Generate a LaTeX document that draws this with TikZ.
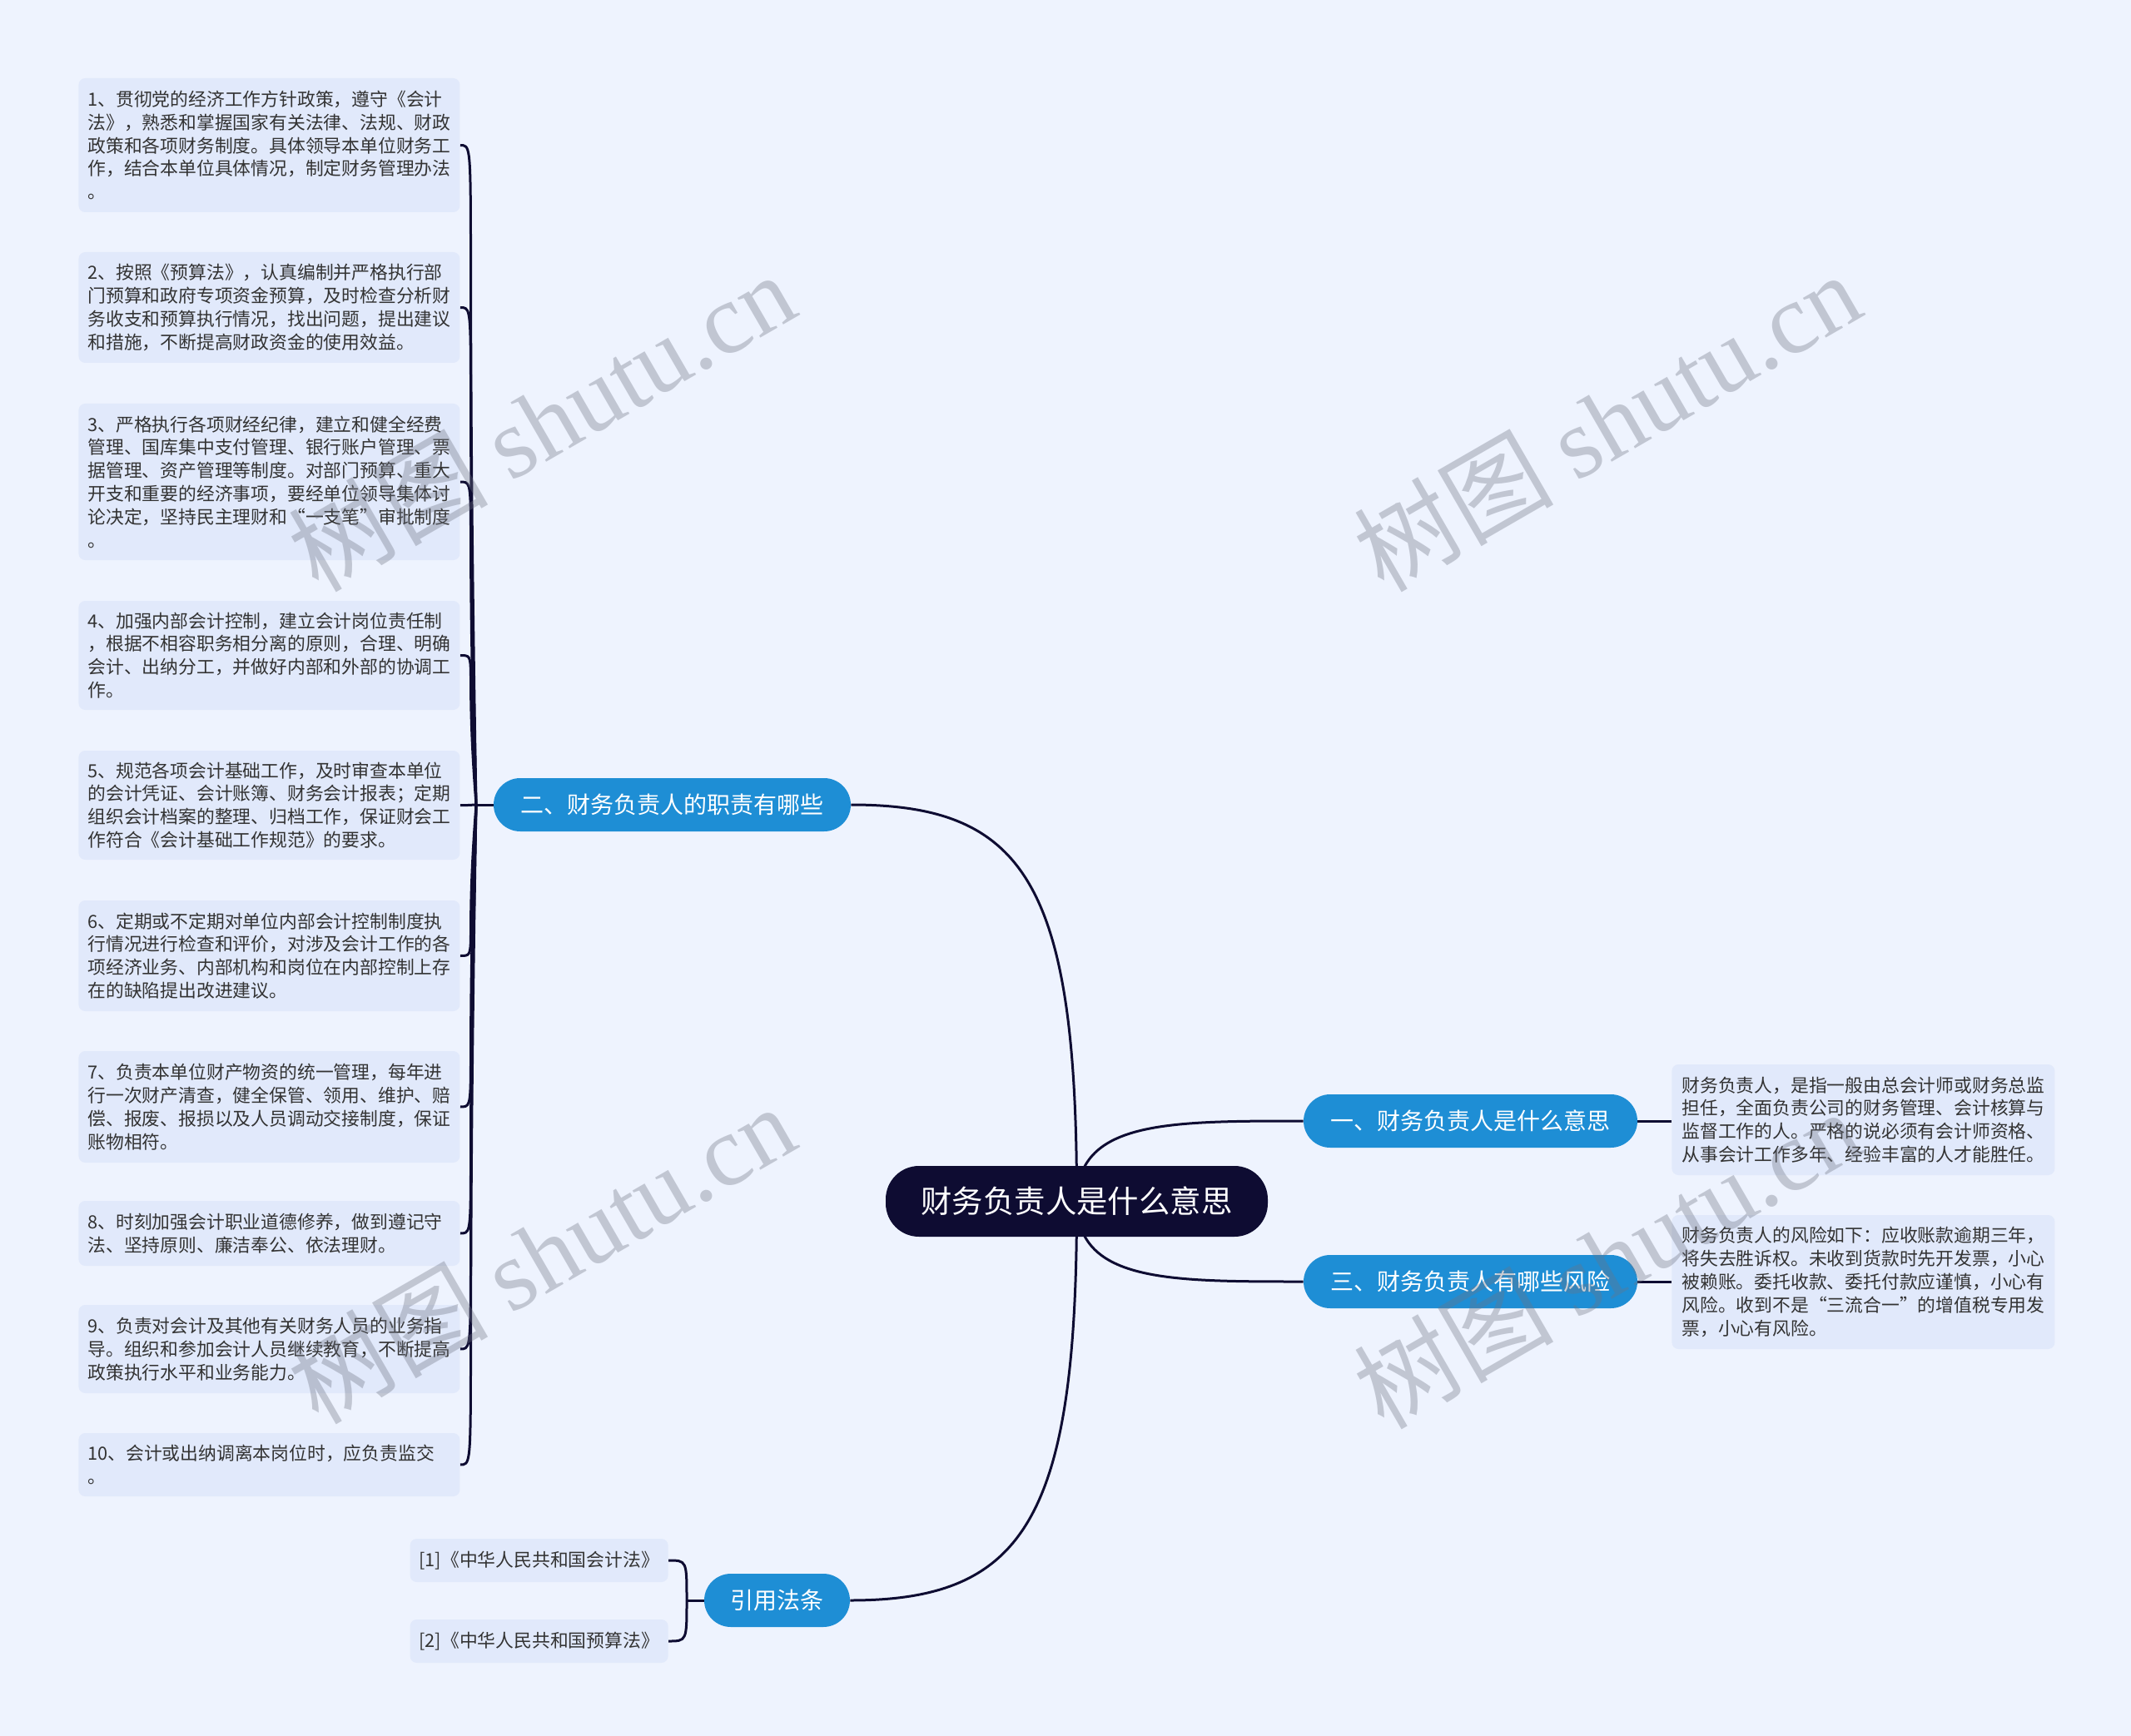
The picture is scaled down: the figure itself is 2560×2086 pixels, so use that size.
\documentclass[tikz,border=0pt]{standalone}
\usepackage{fontspec}
\setmainfont{Noto Sans CJK SC}
\newfontfamily\wmserif{Liberation Serif}
\setlength\parindent{0pt}
\pgfdeclarelayer{back}\pgfdeclarelayer{bg}\pgfdeclarelayer{fg}
\pgfsetlayers{back,bg,main,fg}
\definecolor{bgc}{RGB}{238,243,254}
\definecolor{leafc}{RGB}{225,233,251}
\definecolor{brc}{RGB}{30,142,213}
\definecolor{rootc}{RGB}{14,12,50}
\definecolor{txt}{RGB}{51,51,51}
\definecolor{wmc}{RGB}{110,115,130}
\begin{document}
\begin{tikzpicture}[x=0.5pt,y=-0.5pt,
  leaf/.style={fill=leafc, rounded corners=4pt, text=txt, font=\fontsize{10.9pt}{13.9pt}\selectfont, align=left, text width=218pt, inner xsep=5.5pt, inner ysep=0pt, anchor=west},
  cite/.style={fill=leafc, rounded corners=4pt, text=txt, font=\fontsize{10.9pt}{13.9pt}\selectfont, minimum width=155pt, minimum height=26pt, inner sep=0pt, anchor=east},
  branch/.style={fill=brc, text=white, rounded corners=16pt, minimum height=32pt, inner sep=0pt, font=\fontsize{14pt}{16pt}\selectfont},
  link/.style={draw=rootc, line width=1.5pt},
  wm/.style={text=wmc, text opacity=0.35, rotate=30, font=\fontsize{60pt}{66pt}\selectfont, inner sep=0pt}
]
\useasboundingbox (0,0) rectangle (2560,2086);
\begin{pgfonlayer}{back}
\fill[bgc] (0,0) rectangle (2560,2086);
\end{pgfonlayer}

% root
\node[fill=rootc, text=white, rounded corners=20pt, minimum width=229.5pt, minimum height=42.5pt, inner sep=0pt, font=\fontsize{18.7pt}{22pt}\selectfont] (root) at (1293.5,1443.5) {财务负责人是什么意思};

% branches
\node[branch, minimum width=214.5pt] (b2) at (807.5,967) {二、财务负责人的职责有哪些};
\node[branch, minimum width=200.5pt] (b1) at (1766.5,1347) {一、财务负责人是什么意思};
\node[branch, minimum width=200.5pt] (b3) at (1766.5,1540) {三、财务负责人有哪些风险};
\node[branch, minimum width=87.5pt] (b4) at (933.5,1923) {引用法条};

% left leaves
\node[leaf, minimum height=80.5pt] (l1) at (94,174.5) {1、贯彻党的经济工作方针政策，遵守《会计\\法》，熟悉和掌握国家有关法律、法规、财政\\政策和各项财务制度。具体领导本单位财务工\\作，结合本单位具体情况，制定财务管理办法\\。};
\node[leaf, minimum height=66.5pt] (l2) at (94,369.5) {2、按照《预算法》，认真编制并严格执行部\\门预算和政府专项资金预算，及时检查分析财\\务收支和预算执行情况，找出问题，提出建议\\和措施，不断提高财政资金的使用效益。};
\node[leaf, minimum height=94pt] (l3) at (94,579) {3、严格执行各项财经纪律，建立和健全经费\\管理、国库集中支付管理、银行账户管理、票\\据管理、资产管理等制度。对部门预算、重大\\开支和重要的经济事项，要经单位领导集体讨\\论决定，坚持民主理财和“一支笔”审批制度\\。};
\node[leaf, minimum height=65.5pt] (l4) at (94,787.5) {4、加强内部会计控制，建立会计岗位责任制\\，根据不相容职务相分离的原则，合理、明确\\会计、出纳分工，并做好内部和外部的协调工\\作。};
\node[leaf, minimum height=65.5pt] (l5) at (94,967.5) {5、规范各项会计基础工作，及时审查本单位\\的会计凭证、会计账簿、财务会计报表；定期\\组织会计档案的整理、归档工作，保证财会工\\作符合《会计基础工作规范》的要求。};
\node[leaf, minimum height=66.5pt] (l6) at (94,1148.5) {6、定期或不定期对单位内部会计控制制度执\\行情况进行检查和评价，对涉及会计工作的各\\项经济业务、内部机构和岗位在内部控制上存\\在的缺陷提出改进建议。};
\node[leaf, minimum height=67pt] (l7) at (94,1330) {7、负责本单位财产物资的统一管理，每年进\\行一次财产清查，健全保管、领用、维护、赔\\偿、报废、报损以及人员调动交接制度，保证\\账物相符。};
\node[leaf, minimum height=39pt] (l8) at (94,1482) {8、时刻加强会计职业道德修养，做到遵记守\\法、坚持原则、廉洁奉公、依法理财。};
\node[leaf, minimum height=53pt] (l9) at (94,1621) {9、负责对会计及其他有关财务人员的业务指\\导。组织和参加会计人员继续教育，不断提高\\政策执行水平和业务能力。};
\node[leaf, minimum height=38pt] (l10) at (94,1760) {10、会计或出纳调离本岗位时，应负责监交\\。};

% right leaves
\node[leaf, minimum height=66.5pt, inner xsep=6pt] (r1) at (2008,1345.5) {财务负责人，是指一般由总会计师或财务总监\\担任，全面负责公司的财务管理、会计核算与\\监督工作的人。严格的说必须有会计师资格、\\从事会计工作多年、经验丰富的人才能胜任。};
\node[leaf, minimum height=80.5pt, inner xsep=6pt] (r3) at (2008,1540.5) {财务负责人的风险如下：应收账款逾期三年，\\将失去胜诉权。未收到货款时先开发票，小心\\被赖账。委托收款、委托付款应谨慎，小心有\\风险。收到不是“三流合一”的增值税专用发\\票，小心有风险。};

% citations
\node[cite] (c1) at (803,1875) {[1]《中华人民共和国会计法》};
\node[cite] (c2) at (803,1972) {[2]《中华人民共和国预算法》};

% connectors
\begin{pgfonlayer}{bg}
\draw[link] (root.center) .. controls (1294,1060) and (1230,967) .. (b2.east);
\draw[link] (root.center) .. controls (1294,1826) and (1230,1923) .. (b4.east);
\draw[link] (root.center) .. controls (1294,1347) and (1400,1347) .. (b1.west);
\draw[link] (root.center) .. controls (1294,1540) and (1400,1540) .. (b3.west);
\coordinate (J) at (572,967);
\coordinate (A) at (558,967);
\coordinate (B) at (575,967);
\draw[link] (b2.west) -- (J);
\foreach \i in {1,...,10}
  \draw[link] (J) .. controls (A |- l\i.east) and (B |- l\i.east) .. (l\i.east);
\coordinate (J2) at (825,1923);
\draw[link] (b4.west) -- (J2);
\foreach \i in {1,2}
  \draw[link] (J2) .. controls (J2 |- c\i.east) and (J2 |- c\i.east) .. (c\i.east);
\draw[link] (b1.east) -- (b1.east -| r1.west);
\draw[link] (b3.east) -- (b3.east -| r3.west);
\end{pgfonlayer}

% watermarks
\begin{pgfonlayer}{fg}
\node[wm] (w1) at (650,506) {树图 {\wmserif shutu.cn}};
\node[wm] (w2) at (1930,506) {树图 {\wmserif shutu.cn}};
\node[wm] (w3) at (650,1506) {树图 {\wmserif shutu.cn}};
\node[wm] (w4) at (1930,1512) {树图 {\wmserif shutu.cn}};
\end{pgfonlayer}
\end{tikzpicture}
\end{document}
